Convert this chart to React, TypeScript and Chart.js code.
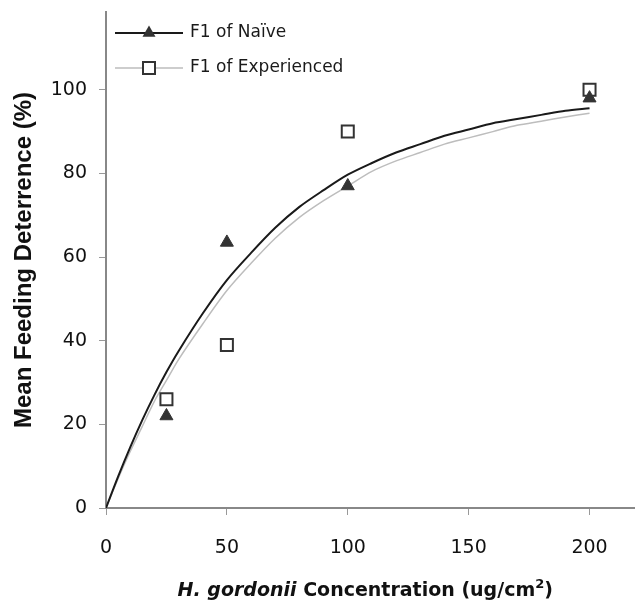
import React, { useEffect, useRef } from "react";
import { Chart, registerables } from "chart.js";

Chart.register(...registerables);

// Observed data points
const naiveX = [25, 50, 100, 200];
const naiveY = [22, 63.5, 77, 98];
const expX = [25, 50, 100, 200];
const expY = [26, 39, 90, 100];

// Fitted curves
const curveX = [0, 5, 10, 15, 20, 25, 30, 40, 50, 60, 70, 80, 90, 100, 110, 120, 130, 140, 150, 160, 170, 180, 190, 200];
const naiveCurveY = [0, 7.5, 14.5, 21, 27, 32.5, 37.5, 46.5, 54.5, 61, 67, 72, 76, 79.7, 82.5, 85, 87, 89, 90.5, 92, 93, 94, 95, 95.6];
const expCurveY = [0, 7, 13.5, 19.5, 25.5, 30.5, 35.5, 44, 52, 58.5, 64.5, 69.5, 73.5, 77, 80.5, 83, 85, 87, 88.5, 90, 91.5, 92.5, 93.5, 94.4];

const legendLabels = ["F1 of Naïve", "F1 of Experienced"];
const yTitle = "Mean Feeding Deterrence (%)";
const xTitleItalic = "H. gordonii";
const xTitleRest = " Concentration (ug/cm";
const xTitleSup = "2";
const xTitleEnd = ")";

const toXY = (xs: number[], ys: number[]) => xs.map((x, i) => ({ x, y: ys[i] }));

const customPlugin = {
  id: "customDecor",
  afterDraw(chart: any) {
    const { ctx, chartArea } = chart;
    ctx.save();
    // Legend
    const lx0 = chartArea.left + 9;
    const lx1 = chartArea.left + 77;
    const mx = (lx0 + lx1) / 2;
    const r1 = chartArea.top + 21;
    const r2 = chartArea.top + 56;
    // row 1
    ctx.strokeStyle = "#1a1a1a";
    ctx.lineWidth = 2;
    ctx.beginPath();
    ctx.moveTo(lx0, r1);
    ctx.lineTo(lx1, r1);
    ctx.stroke();
    const tr = 7.5;
    ctx.fillStyle = "#333";
    ctx.beginPath();
    ctx.moveTo(mx, r1 - tr);
    ctx.lineTo(mx + tr * 0.866, r1 + tr * 0.5);
    ctx.lineTo(mx - tr * 0.866, r1 + tr * 0.5);
    ctx.closePath();
    ctx.fill();
    // row 2
    ctx.strokeStyle = "#bdbdbd";
    ctx.lineWidth = 1.5;
    ctx.beginPath();
    ctx.moveTo(lx0, r2);
    ctx.lineTo(lx1, r2);
    ctx.stroke();
    ctx.fillStyle = "#fff";
    ctx.strokeStyle = "#333";
    ctx.lineWidth = 2;
    ctx.fillRect(mx - 6, r2 - 6, 12, 12);
    ctx.strokeRect(mx - 6, r2 - 6, 12, 12);
    // texts
    ctx.fillStyle = "#1a1a1a";
    ctx.font = "17px 'DejaVu Sans'";
    ctx.textBaseline = "middle";
    ctx.textAlign = "left";
    ctx.fillText(legendLabels[0], lx1 + 7, r1);
    ctx.fillText(legendLabels[1], lx1 + 7, r2);

    // X title
    const fItal = "italic bold 19px 'DejaVu Sans'";
    const fBold = "bold 19px 'DejaVu Sans'";
    const fSup = "bold 13px 'DejaVu Sans'";
    ctx.font = fItal;
    const w1 = ctx.measureText(xTitleItalic).width;
    ctx.font = fBold;
    const w2 = ctx.measureText(xTitleRest).width;
    const w4 = ctx.measureText(xTitleEnd).width;
    ctx.font = fSup;
    const w3 = ctx.measureText(xTitleSup).width;
    const total = w1 + w2 + w3 + w4;
    let x = (chartArea.left + chartArea.right) / 2 - 5 - total / 2;
    const base = chart.height - 5;
    ctx.textBaseline = "alphabetic";
    ctx.fillStyle = "#111";
    ctx.font = fItal;
    ctx.fillText(xTitleItalic, x, base);
    x += w1;
    ctx.font = fBold;
    ctx.fillText(xTitleRest, x, base);
    x += w2;
    ctx.font = fSup;
    ctx.fillText(xTitleSup, x, base - 8);
    x += w3;
    ctx.font = fBold;
    ctx.fillText(xTitleEnd, x, base);
    ctx.restore();
  },
};

export default function App() {
  const ref = useRef<HTMLCanvasElement | null>(null);
  useEffect(() => {
    if (!ref.current) return;
    const chart = new Chart(ref.current, {
      type: "scatter",
      data: {
        datasets: [
          {
            label: legendLabels[0] + " points",
            data: toXY(naiveX, naiveY),
            pointStyle: "triangle",
            pointRadius: 7.5,
            backgroundColor: "#333",
            borderColor: "#333",
            borderWidth: 1,
            showLine: false,
            order: 0,
          },
          {
            label: legendLabels[1] + " points",
            data: toXY(expX, expY),
            pointStyle: "rect",
            pointRadius: 8.5,
            backgroundColor: "#fff",
            borderColor: "#333",
            borderWidth: 2,
            showLine: false,
            order: 0,
          },
          {
            label: legendLabels[0],
            data: toXY(curveX, naiveCurveY),
            showLine: true,
            pointRadius: 0,
            borderColor: "#1a1a1a",
            borderWidth: 2,
            tension: 0.3,
            order: 1,
          },
          {
            label: legendLabels[1],
            data: toXY(curveX, expCurveY),
            showLine: true,
            pointRadius: 0,
            borderColor: "#bdbdbd",
            borderWidth: 1.5,
            tension: 0.3,
            order: 2,
          },
        ],
      },
      options: {
        animation: false,
        responsive: false,
        devicePixelRatio: 1,
        layout: { padding: { left: 0, right: 0, top: 12, bottom: 0 } },
        plugins: {
          legend: { display: false },
          tooltip: { enabled: false },
        },
        scales: {
          x: {
            type: "linear",
            min: 0,
            max: 218.6,
            ticks: {
              stepSize: 50,
              includeBounds: false,
              font: { family: "'DejaVu Sans'", size: 19 },
              color: "#111",
              padding: 22,
              maxRotation: 0,
            },
            grid: {
              display: true,
              drawOnChartArea: false,
              drawTicks: true,
              tickLength: 7,
              color: "#999",
            },
            border: { display: true, color: "#888", width: 2 },
            afterFit: (scale: any) => {
              scale.height = 93;
            },
          },
          y: {
            type: "linear",
            min: 0,
            max: 118.6,
            ticks: {
              stepSize: 20,
              includeBounds: false,
              font: { family: "'DejaVu Sans'", size: 19 },
              color: "#111",
              padding: 12,
            },
            grid: {
              display: true,
              drawOnChartArea: false,
              drawTicks: true,
              tickLength: 7,
              color: "#999",
            },
            border: { display: true, color: "#888", width: 2 },
            title: {
              display: true,
              text: yTitle,
              font: { family: "'Liberation Sans'", size: 24, weight: "bold" },
              color: "#111",
              padding: { top: 10, bottom: 0 },
            },
            afterFit: (scale: any) => {
              scale.width = 106;
              scale.paddingTop = 0;
              scale.paddingBottom = 0;
            },
          },
        },
      },
      plugins: [customPlugin],
    });
    return () => chart.destroy();
  }, []);
  return (
    <div style={{ position: "absolute", left: 0, top: 0, width: 635, height: 601, overflow: "hidden", background: "#fff" }}>
      <canvas ref={ref} width={645} height={601} style={{ display: "block" }} />
    </div>
  );
}
